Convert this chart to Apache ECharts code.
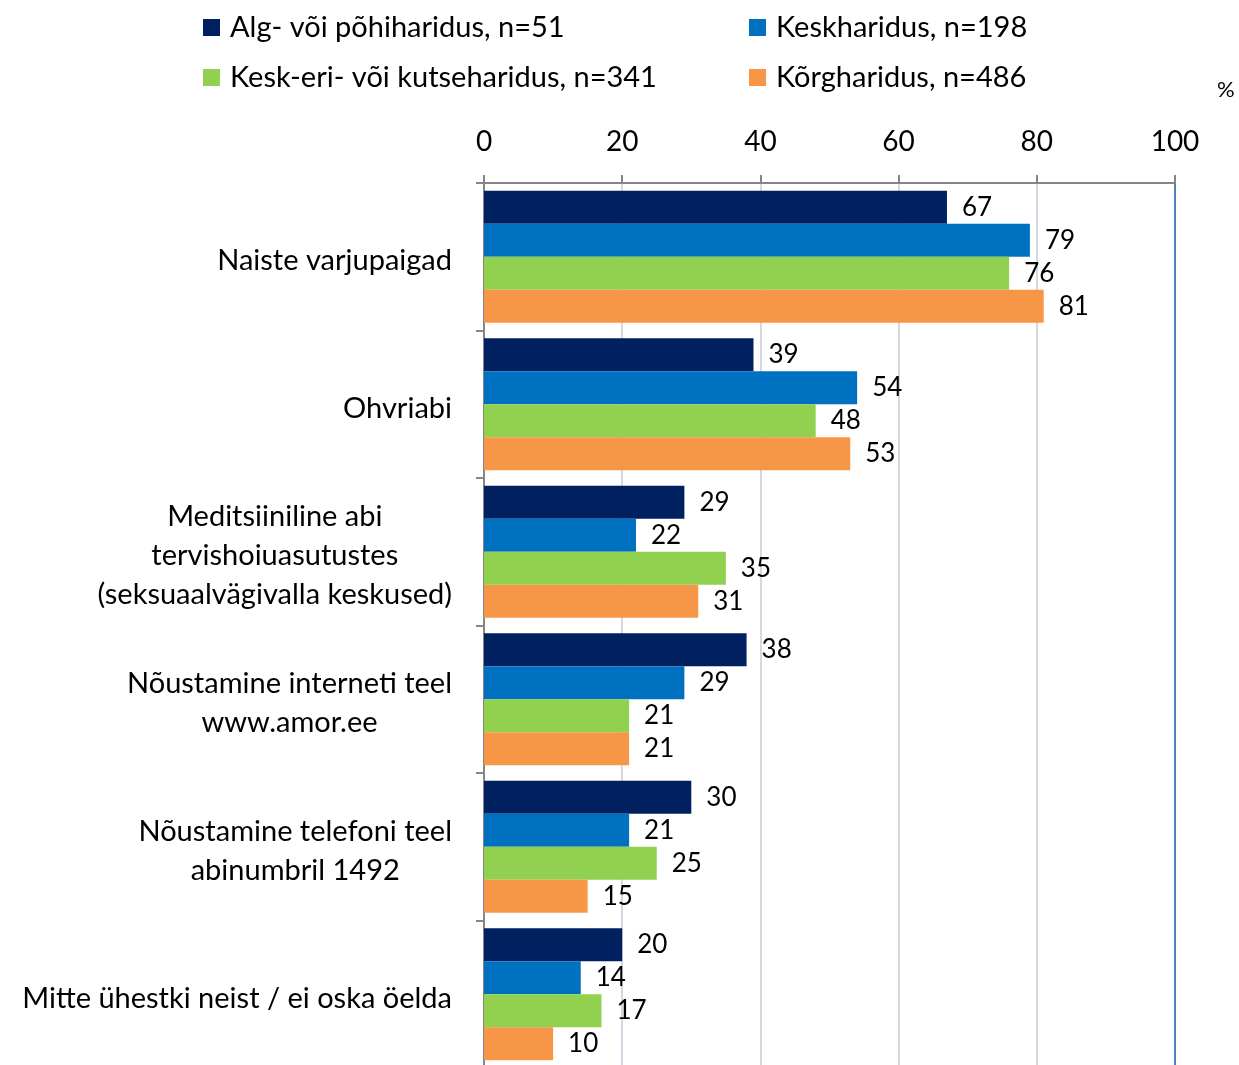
<!DOCTYPE html>
<html>
<head>
<meta charset="utf-8">
<script src="https://cdn.jsdelivr.net/npm/echarts@6/dist/echarts.min.js"></script>
<style>
  html, body { margin: 0; padding: 0; background: #fff; overflow: hidden; }
  #chart { width: 1239px; height: 1080px; }
</style>
</head>
<body>
<div id="chart"></div>
<script>
  const categories = [
    'Naiste varjupaigad',
    'Ohvriabi',
    'Meditsiiniline abi\ntervishoiuasutustes\n(seksuaalvägivalla keskused)',
    'Nõustamine interneti teel\nwww.amor.ee',
    'Nõustamine telefoni teel\nabinumbril 1492',
    'Mitte ühestki neist / ei oska öelda'
  ]
  const seriesNames = [
    'Alg- või põhiharidus, n=51',
    'Keskharidus, n=198',
    'Kesk-eri- või kutseharidus, n=341',
    'Kõrgharidus, n=486'
  ]
  const algValues = [67, 39, 29, 38, 30, 20]
  const keskValues = [79, 54, 22, 29, 21, 14]
  const keskEriValues = [76, 48, 35, 21, 25, 17]
  const korgValues = [81, 53, 31, 21, 15, 10]
  const xTicks = [0, 20, 40, 60, 80, 100]
  const colors = ['#002060', '#0070c0', '#92d050', '#f79646']

  const fontFamily = 'Lato'
  const chart = echarts.init(document.getElementById('chart'))

  const valueLists = [algValues, keskValues, keskEriValues, korgValues]
  const legendStyle = {
    orient: 'vertical',
    top: 13,
    padding: 0,
    itemWidth: 17,
    itemHeight: 17,
    itemGap: 21,
    icon: 'rect',
    textStyle: { fontFamily: fontFamily, fontSize: 29, color: '#000', padding: [0, 0, 0, 5] }
  }

  chart.setOption({
    color: colors,
    animation: false,
    textStyle: { fontFamily: fontFamily },
    title: {
      text: '%',
      left: 1212,
      top: 74,
      textStyle: { fontFamily: fontFamily, fontSize: 22, fontWeight: 'normal', color: '#000' }
    },
    legend: [
      Object.assign({ left: 203, data: [seriesNames[0], seriesNames[2]] }, legendStyle),
      Object.assign({ left: 749, data: [seriesNames[1], seriesNames[3]] }, legendStyle)
    ],
    grid: {
      left: 484,
      right: 64,
      top: 183,
      height: 885,
      containLabel: false
    },
    xAxis: {
      type: 'value',
      position: 'top',
      min: xTicks[0],
      max: xTicks[xTicks.length - 1],
      interval: 20,
      axisLine: { show: true, lineStyle: { color: '#868686', width: 2 } },
      axisTick: { show: true, length: 8, lineStyle: { color: '#868686', width: 2 } },
      axisLabel: { fontSize: 28, color: '#000', margin: 27, fontFamily: fontFamily },
      splitLine: {
        show: true,
        lineStyle: { color: ['#d4d8e2', '#d4d8e2', '#d4d8e2', '#d4d8e2', '#d4d8e2', '#4f81bd'], width: 2 }
      }
    },
    yAxis: {
      type: 'category',
      inverse: true,
      data: categories,
      axisLine: { show: true, lineStyle: { color: '#868686', width: 2 } },
      axisTick: { show: true, length: 8, lineStyle: { color: '#868686', width: 2 } },
      axisLabel: {
        margin: 32,
        align: 'right',
        padding: [8, 0, 0, 0],
        formatter: function (val) {
          return val.split('\n').map(function (s) { return '{c|' + s + '}' }).join('\n')
        },
        rich: {
          c: { fontFamily: fontFamily, fontSize: 29, color: '#000', align: 'center', lineHeight: 39 }
        }
      }
    },
    series: valueLists.map(function (vals, i) {
      return {
        name: seriesNames[i],
        type: 'bar',
        data: vals,
        barWidth: 33,
        barGap: '0%',
        label: {
          show: true,
          position: 'right',
          distance: 15,
          fontSize: 26,
          color: '#000',
          fontFamily: fontFamily
        }
      }
    })
  })
</script>
</body>
</html>
